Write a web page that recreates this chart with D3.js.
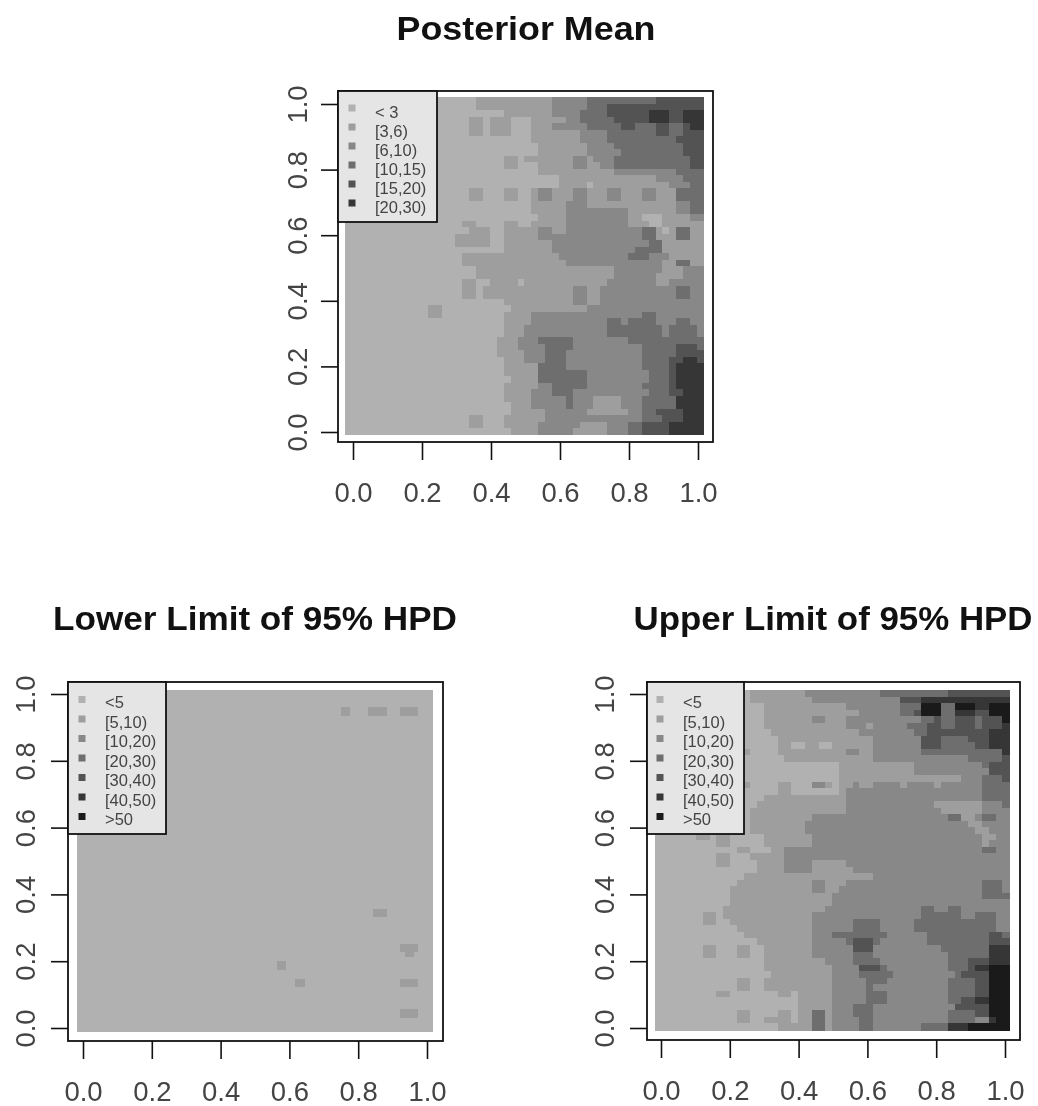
<!DOCTYPE html>
<html>
<head>
<meta charset="utf-8">
<script src="https://cdn.jsdelivr.net/npm/d3@7"></script>
<style>
  html, body { margin: 0; padding: 0; background: #fff; }
  svg { display: block; filter: blur(0.7px); }
  text { font-family: "Liberation Sans", Arial, sans-serif; }
</style>
</head>
<body>
<div id="chart"></div>
<script>
const width = 1038;
const height = 1106;

// grey class of each legend entry
const greys = ['#b1b1b1', '#9e9e9e', '#888888', '#6e6e6e', '#535353', '#363636', '#1a1a1a'];

const tickValues = [0, 0.2, 0.4, 0.6, 0.8, 1];

const meanLegend = ['< 3', '[3,6)', '[6,10)', '[10,15)', '[15,20)', '[20,30)'];
const hpdLegend = ['<5', '[5,10)', '[10,20)', '[20,30)', '[30,40)', '[40,50)', '>50'];

// class per cell, top row first, written as class*count runs
const meanRows = [
  '0*19 1*11 2*5 3*10 4*7',
  '0*19 1*11 2*5 3*3 4*14',
  '0*23 1*7 2*4 3*4 4*6 5*3 4*2 5*3',
  '0*18 1*2 0*1 1*3 0*3 1*5 2*2 3*5 4*5 5*3 4*2 5*3',
  '0*18 1*2 0*1 1*3 0*3 1*3 2*5 3*5 4*2 3*3 4*2 3*2 4*1 5*2',
  '0*18 1*2 0*1 1*3 0*3 1*7 2*4 3*7 4*2 3*2 4*3',
  '0*27 1*7 2*4 3*10 4*4',
  '0*28 1*7 2*4 3*10 4*3',
  '0*28 1*7 2*5 3*9 4*3',
  '0*23 1*2 0*1 1*7 2*2 1*1 2*3 3*11 4*2',
  '0*23 1*2 0*3 1*5 2*2 1*2 2*2 3*11 4*2',
  '0*28 1*11 2*9 3*4',
  '0*31 1*14 2*4 3*3',
  '0*31 1*4 0*1 1*11 2*3 3*2',
  '0*18 1*2 0*3 1*2 0*2 1*1 2*2 1*3 2*2 1*3 2*2 1*3 2*2 1*3 3*4',
  '0*18 1*2 0*3 1*2 0*2 1*1 2*2 1*3 2*2 1*3 2*2 1*3 2*2 1*3 3*4',
  '0*27 1*5 2*3 1*13 2*2 3*2',
  '0*27 1*5 2*9 1*7 2*2 3*2',
  '0*28 1*4 2*9 1*2 0*3 1*4 2*2',
  '0*17 1*2 0*4 1*2 0*2 1*5 2*9 1*3 0*2 1*6',
  '0*18 1*3 0*2 1*5 2*2 1*2 2*11 3*2 1*1 0*1 1*1 3*2 1*2',
  '0*16 1*5 0*2 1*5 2*15 3*2 1*3 3*2 1*2',
  '0*16 1*5 0*2 1*7 2*14 3*2 1*6',
  '0*23 1*7 2*12 3*4 1*6',
  '0*17 1*14 2*10 3*3 2*3 1*5',
  '0*17 1*15 2*14 1*2 3*2 1*2',
  '0*19 1*20 2*7 1*3 2*3',
  '0*19 1*20 2*6 1*4 2*3',
  '0*17 1*2 0*2 1*4 0*1 1*12 2*7 1*2 2*5',
  '0*17 1*2 0*1 1*13 2*2 1*2 2*11 3*2 2*2',
  '0*17 1*2 0*1 1*13 2*2 1*2 2*11 3*2 2*2',
  '0*23 1*10 2*2 1*2 2*15',
  '0*12 1*2 0*10 1*11 2*17',
  '0*12 1*2 0*9 1*4 2*16 3*2 2*7',
  '0*23 1*4 2*11 3*2 2*1 3*4 2*3 3*2 2*2',
  '0*23 1*3 2*12 3*8 2*1 3*4 2*1',
  '0*23 1*3 2*12 3*8 2*1 3*4 2*1',
  '0*22 1*3 2*3 3*5 2*8 3*11',
  '0*22 1*3 2*4 3*4 2*10 3*5 4*3 3*1',
  '0*22 1*4 2*3 3*3 2*11 3*5 4*4',
  '0*23 1*3 2*3 3*3 2*11 3*4 4*2 5*2 4*1',
  '0*23 1*5 3*4 2*11 3*4 4*1 5*4',
  '0*23 1*5 3*7 2*9 3*3 4*1 5*4',
  '0*24 1*4 3*7 2*9 3*3 4*1 5*4',
  '0*23 1*5 2*2 3*5 2*8 3*4 4*1 5*4',
  '0*23 1*4 2*3 3*3 2*11 3*3 4*2 5*3',
  '0*23 1*4 2*5 3*1 2*3 1*4 2*3 3*5 5*4',
  '0*24 1*3 2*5 3*1 2*3 1*4 2*3 3*5 5*4',
  '0*24 1*5 2*6 1*6 2*2 3*2 4*4 5*3',
  '0*18 1*2 0*3 1*6 2*14 3*3 4*3 5*3',
  '0*18 1*2 0*3 1*5 2*6 1*4 2*3 3*2 4*4 5*5',
  '0*24 1*4 2*5 1*5 2*3 3*2 4*4 5*5'
];

const upperRows = [
  '0*14 1*8 2*11 3*10 4*9',
  '0*14 1*9 2*13 4*3 5*13',
  '0*16 1*12 2*8 3*3 6*3 3*2 6*3 5*2 6*3',
  '0*16 1*14 2*6 3*2 4*1 6*3 3*2 5*3 4*2 6*3',
  '0*16 1*7 2*2 1*3 2*11 3*2 4*1 3*2 4*3 3*1 4*3 6*1',
  '0*16 1*12 2*3 1*1 2*5 3*3 4*2 3*2 4*3 3*1 4*3 5*1',
  '0*17 1*13 2*8 3*2 4*9 5*3',
  '0*18 1*14 2*7 4*3 3*4 4*3 5*3',
  '0*18 1*2 0*2 1*2 0*2 1*6 2*7 4*3 3*5 4*2 5*3',
  '0*13 1*1 0*4 1*10 2*2 1*2 2*7 3*12 5*1',
  '0*19 1*13 2*14 3*5 4*1',
  '0*27 1*11 2*10 3*1 4*3',
  '0*27 1*11 2*11 4*3',
  '0*27 1*18 2*3 3*3 4*1',
  '0*13 1*1 0*4 1*2 0*3 2*2 1*1 0*1 1*2 2*1 1*2 2*4 1*1 2*4 1*1 2*6 3*4',
  '0*18 1*2 0*7 1*1 2*20 3*4',
  '0*16 1*12 2*20 3*4',
  '0*15 1*13 2*13 1*7 2*3 3*1',
  '0*14 1*14 2*14 1*6 2*4',
  '0*14 1*9 2*20 3*2 1*2 2*1 3*2 2*2',
  '0*14 1*8 2*24 1*2 2*4',
  '0*14 1*8 2*25 1*2 2*3',
  '0*6 1*2 0*1 1*2 0*5 1*7 2*25 1*2 2*2',
  '0*9 1*2 0*5 1*7 2*25 1*1 2*3',
  '0*12 1*2 0*3 1*2 2*29 3*2 2*2',
  '0*9 1*2 0*3 1*5 2*33',
  '0*9 1*2 0*4 1*4 2*4 1*5 2*24',
  '0*15 1*4 2*4 1*6 2*23',
  '0*13 1*19 2*20',
  '0*12 1*11 2*2 1*3 2*20 3*3 2*1',
  '0*11 1*12 2*2 1*2 2*21 3*3 2*1',
  '0*11 1*15 2*22 3*4',
  '0*11 1*15 2*26',
  '0*10 1*15 2*14 3*2 2*2 3*2 2*7',
  '0*7 1*2 0*1 1*13 2*16 3*6 2*2 3*3 2*2',
  '0*7 1*2 0*2 1*12 2*6 3*4 2*5 3*12 2*2',
  '0*12 1*11 2*6 3*4 2*5 3*12 2*2',
  '0*13 1*10 2*3 3*8 2*6 3*9 4*2 3*1',
  '0*15 1*8 2*5 3*1 4*3 3*1 2*7 3*9 4*3',
  '0*7 1*2 0*3 1*2 0*2 1*7 2*6 4*3 2*10 3*7 5*3',
  '0*7 1*2 0*3 1*2 0*2 1*7 2*6 3*3 2*11 3*6 5*3',
  '0*16 1*9 2*4 3*4 2*10 3*3 4*3 5*3',
  '0*16 1*10 2*4 4*3 3*1 2*9 3*3 4*1 5*2 6*3',
  '0*17 1*9 2*4 3*5 2*9 3*1 4*4 6*3',
  '0*12 1*2 0*2 1*10 2*5 3*3 2*9 3*4 4*2 6*3',
  '0*12 1*2 0*2 1*10 2*5 3*1 2*11 3*4 4*2 6*3',
  '0*9 1*2 0*7 1*2 0*1 1*5 2*5 3*3 2*9 3*4 4*2 6*3',
  '0*21 1*5 2*5 3*3 2*9 3*2 4*2 5*2 6*3',
  '0*21 1*5 2*3 3*3 2*12 4*5 6*3',
  '0*12 1*2 0*4 1*2 0*1 1*2 3*2 1*1 2*3 3*3 2*11 3*4 4*2 6*3',
  '0*12 1*2 0*2 1*4 0*1 1*2 3*2 1*1 2*4 3*2 2*11 3*4 2*2 5*1 6*2',
  '0*18 1*5 3*2 1*1 2*4 3*2 2*7 3*4 5*3 6*6'
];

// nearly all of this panel is the lowest class, only the runs differ
const blank = '0*78';
const lowerRows = [
  blank, blank, blank, blank,
  '0*58 1*2 0*4 1*4 0*3 1*4 0*3',
  '0*58 1*2 0*4 1*4 0*3 1*4 0*3',
  ...Array(44).fill(blank),
  '0*65 1*3 0*10',
  '0*65 1*3 0*10',
  ...Array(6).fill(blank),
  '0*71 1*4 0*3',
  '0*71 1*4 0*3',
  '0*72 1*2 0*4',
  blank,
  '0*44 1*2 0*32',
  '0*44 1*2 0*32',
  blank, blank,
  '0*48 1*2 0*21 1*4 0*3',
  '0*48 1*2 0*21 1*4 0*3',
  blank, blank, blank, blank, blank,
  '0*71 1*4 0*3',
  '0*71 1*4 0*3',
  blank, blank, blank
];

const panels = [
  {
    title: 'Posterior Mean', titleX: 526, titleY: 40, titleLength: 259,
    box: [338, 91, 713, 442], xPx: [353, 698], yPx: [432, 104], yLabelOffset: -31,
    xExtent: [-0.023, 1.017], yExtent: [-0.009, 1.021],
    rows: meanRows, legend: meanLegend, legendRight: 437, legendBottom: 222,
    swatchX: 352, swatchY: 108, textX: 375, textY: 118
  },
  {
    title: 'Lower Limit of 95% HPD', titleX: 255, titleY: 630, titleLength: 404,
    box: [68, 682, 443, 1041], xPx: [83, 427], yPx: [1028, 694], yLabelOffset: -33,
    xExtent: [-0.018, 1.015], yExtent: [-0.009, 1.012],
    rows: lowerRows, legend: hpdLegend, legendRight: 166, legendBottom: 834,
    swatchX: 82, swatchY: 699.5, textX: 105, textY: 708
  },
  {
    title: 'Upper Limit of 95% HPD', titleX: 833, titleY: 630, titleLength: 399,
    box: [647, 682, 1020, 1040], xPx: [661, 1005], yPx: [1028, 694], yLabelOffset: -33,
    xExtent: [-0.017, 1.012], yExtent: [-0.006, 1.012],
    rows: upperRows, legend: hpdLegend, legendRight: 744, legendBottom: 834,
    swatchX: 660, swatchY: 699.5, textX: 683, textY: 708
  }
];

// "0*19 1*11" -> [0, 0, ... 1, 1, ...]
function expandRow (row) {
  return row.split(' ').flatMap(function (run) {
    const parts = run.split('*');
    return Array(+parts[1]).fill(+parts[0]);
  });
}

const svg = d3.select('#chart').append('svg')
    .attr('width', width)
    .attr('height', height);

svg.append('rect')
    .attr('width', width)
    .attr('height', height)
    .attr('fill', '#fff');

panels.forEach(drawPanel);

function drawPanel (p) {
  const g = svg.append('g');

  const scaleX = d3.scaleLinear().domain([0, 1]).range(p.xPx);
  const scaleY = d3.scaleLinear().domain([0, 1]).range(p.yPx);

  const cells = p.rows.map(expandRow);
  const n = cells.length;

  const bandX = d3.scaleBand().domain(d3.range(n))
    .range([scaleX(p.xExtent[0]), scaleX(p.xExtent[1])]);
  const bandY = d3.scaleBand().domain(d3.range(n))
    .range([scaleY(p.yExtent[1]), scaleY(p.yExtent[0])]);

  g.append('g')
      .attr('shape-rendering', 'crispEdges')
    .selectAll('g')
    .data(cells)
    .join('g')
      .attr('transform', function (d, i) { return `translate(0, ${bandY(i)})`; })
    .selectAll('rect')
    .data(function (d) { return d; })
    .join('rect')
      .attr('x', function (d, i) { return bandX(i); })
      .attr('width', bandX.bandwidth() + 0.5)
      .attr('height', bandY.bandwidth() + 0.5)
      .attr('fill', function (d) { return greys[d]; });

  // plot frame
  g.append('rect')
      .attr('x', p.box[0])
      .attr('y', p.box[1])
      .attr('width', p.box[2] - p.box[0])
      .attr('height', p.box[3] - p.box[1])
      .attr('fill', 'none')
      .attr('stroke', '#111')
      .attr('stroke-width', 1.8);

  const xAxis = d3.axisBottom(scaleX)
    .tickValues(tickValues)
    .tickFormat(d3.format('.1f'))
    .tickSize(18)
    .tickPadding(22.5);

  const yAxis = d3.axisLeft(scaleY)
    .tickValues(tickValues)
    .tickFormat(d3.format('.1f'))
    .tickSize(17);

  const gx = g.append('g')
      .attr('transform', `translate(0, ${p.box[3]})`)
      .call(xAxis);

  const gy = g.append('g')
      .attr('transform', `translate(${p.box[0]}, 0)`)
      .call(yAxis);

  gx.select('.domain').remove();
  gy.select('.domain').remove();

  gx.selectAll('line').attr('stroke', '#111').attr('stroke-width', 1.6);
  gy.selectAll('line').attr('stroke', '#111').attr('stroke-width', 1.6);

  gx.selectAll('text')
      .attr('font-size', 27.5)
      .attr('fill', '#444')
      .attr('font-family', '"Liberation Sans", Arial, sans-serif');

  // R turns the y labels sideways
  gy.selectAll('text')
      .attr('font-size', 27.5)
      .attr('fill', '#444')
      .attr('font-family', '"Liberation Sans", Arial, sans-serif')
      .attr('text-anchor', 'middle')
      .attr('dy', 0)
      .attr('x', 0)
      .attr('transform', `translate(${p.yLabelOffset}, 0) rotate(-90)`);

  g.append('text')
      .attr('x', p.titleX)
      .attr('y', p.titleY)
      .attr('text-anchor', 'middle')
      .attr('font-size', 34)
      .attr('font-weight', 'bold')
      .attr('fill', '#111')
      .attr('textLength', p.titleLength)
      .attr('lengthAdjust', 'spacingAndGlyphs')
      .text(p.title);

  // legend sits on top of the frame corner
  g.append('rect')
      .attr('x', p.box[0])
      .attr('y', p.box[1])
      .attr('width', p.legendRight - p.box[0])
      .attr('height', p.legendBottom - p.box[1])
      .attr('fill', '#e5e5e5')
      .attr('stroke', '#111')
      .attr('stroke-width', 1.8);

  const legendStep = p.legend.length === 7 ? 19.5 : 19;
  const legendY = d3.scaleLinear().domain([0, 1]).range([0, legendStep]);

  const entries = g.append('g').selectAll('g')
    .data(p.legend)
    .join('g');

  entries.append('rect')
      .attr('x', p.swatchX - 3.5)
      .attr('y', function (d, i) { return p.swatchY + legendY(i) - 3.5; })
      .attr('width', 7)
      .attr('height', 7)
      .attr('fill', function (d, i) { return greys[i]; });

  entries.append('text')
      .attr('x', p.textX)
      .attr('y', function (d, i) { return p.textY + legendY(i); })
      .attr('font-size', 16.5)
      .attr('fill', '#444')
      .text(function (d) { return d; });
}
</script>
</body>
</html>
